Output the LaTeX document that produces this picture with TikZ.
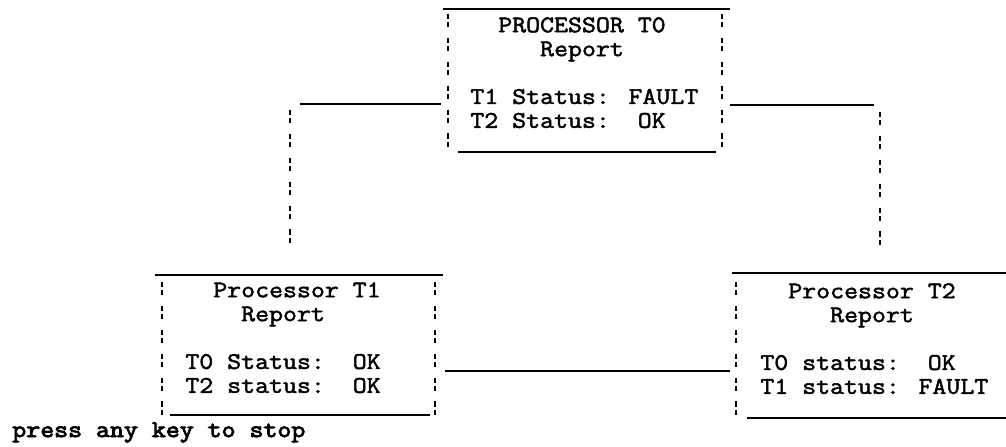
\documentclass[tikz,border=0pt]{standalone}
\usepackage{fontspec}
\newfontfamily\screenfont[FakeBold=2, FakeStretch=1.134]{Latin Modern Mono}
\newfontfamily\promptfont[FakeBold=3.5, FakeStretch=1.134]{Latin Modern Mono}
\usepackage{tikz}

\begin{document}
\begin{tikzpicture}[x=0.02cm, y=-0.02cm,
    report/.style={font=\screenfont\fontsize{13.6pt}{13.6pt}\selectfont,
        align=left, inner sep=0pt, anchor=north west},
    prompt/.style={font=\promptfont\fontsize{13.6pt}{13.6pt}\selectfont,
        inner sep=0pt, anchor=base west},
    hbar/.style={line width=1.4pt},
    vbar/.style={line width=1.4pt, dash pattern=on 3pt off 1.6pt on 3pt off 6pt},
]
\useasboundingbox (0,0) rectangle (1006,446);

% Processor T0 (top)
\node[report] (t0) at (470,17) {\phantom{PP}PROCESSOR T0\\\phantom{PPPPP}Report\\[13.6pt]T1 Status: FAULT\\T2 Status:~~OK};
\draw[hbar] (443,9) -- (730,9);
\draw[vbar] (448,14) -- (448,152);
\draw[vbar] (722,14) -- (722,152);
\draw[hbar] (458,152) -- (716,152);

% Processor T1 (bottom left)
\node[report] (t1) at (185,282) {\phantom{PP}Processor T1\\\phantom{PPPP}Report\\[13.6pt]T0 Status:~~OK\\T2 status:~~OK};
\draw[hbar] (155,275) -- (443,275);
\draw[vbar] (162,282) -- (162,415);
\draw[vbar] (435,282) -- (435,415);
\draw[hbar] (170,415) -- (430,415);

% Processor T2 (bottom right)
\node[report] (t2) at (760,283) {\phantom{PP}Processor T2\\\phantom{PPPPP}Report\\[13.6pt]T0 status:~~OK\\T1 status: FAULT};
\draw[hbar] (732,273) -- (1006,273);
\draw[vbar] (736,282) -- (736,416);
\draw[hbar] (747,418) -- (1006,418);

% links between the reports
\coordinate (t0left) at (441,104);
\coordinate (t0leftend) at (300,104);
\coordinate (t1up) at (290,110);
\coordinate (t1top) at (290,247);
\draw[hbar] (t0left) -- (t0leftend);
\draw[vbar] (t1up) -- (t1top);

\coordinate (t0right) at (730,105);
\coordinate (t0rightend) at (874,105);
\coordinate (t2up) at (880,112);
\coordinate (t2top) at (880,247);
\draw[hbar] (t0right) -- (t0rightend);
\draw[vbar] (t2up) -- (t2top);

\coordinate (t1right) at (445,371);
\coordinate (t2left) at (730,371);
\draw[hbar] (t1right) -- (t2left);

\node[prompt] (stop) at (12,437) {press any key to stop};
\end{tikzpicture}
\end{document}
